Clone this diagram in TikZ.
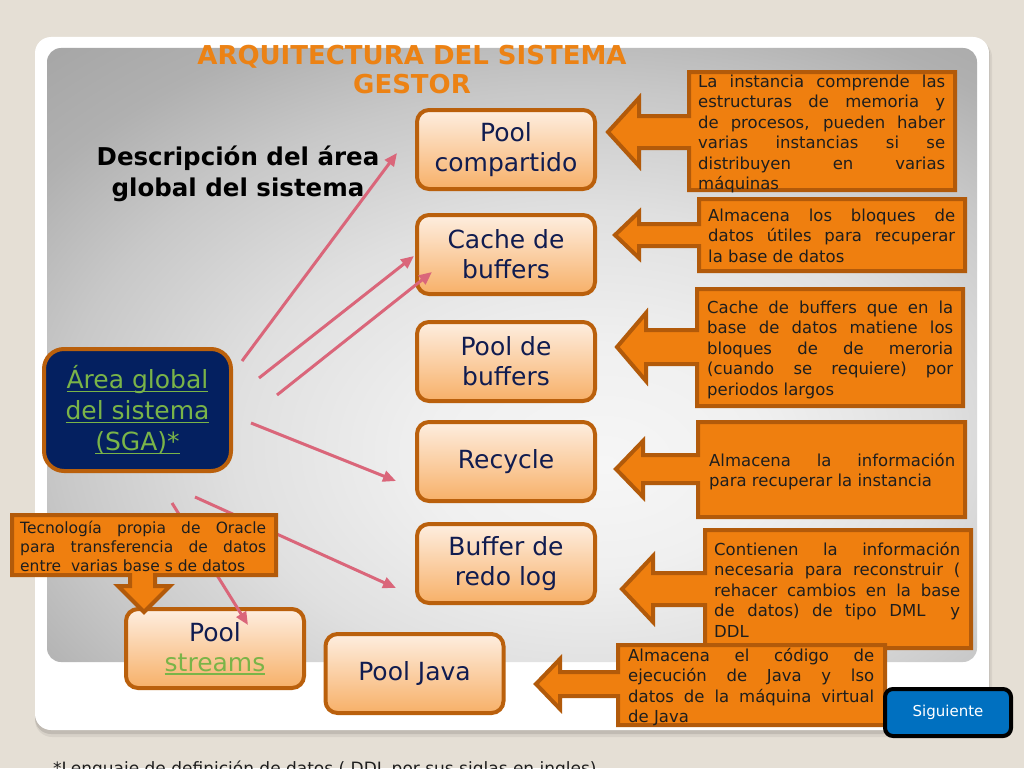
\documentclass[tikz,border=0pt]{standalone}
\usepackage{fontspec}
\setmainfont{DejaVu Sans}
\usetikzlibrary{arrows.meta}
\tolerance=10000 \hbadness=10000 \hyphenpenalty=10000 \exhyphenpenalty=10000
\definecolor{bg}{RGB}{229,223,213}
\definecolor{ttl}{RGB}{236,130,20}
\definecolor{boxbd}{RGB}{186,96,12}
\definecolor{boxtop}{RGB}{254,238,224}
\definecolor{boxbot}{RGB}{247,176,104}
\definecolor{boxtx}{RGB}{16,28,80}
\definecolor{calfill}{RGB}{239,127,15}
\definecolor{calbd}{RGB}{178,90,10}
\definecolor{caltx}{RGB}{30,30,30}
\definecolor{pinkl}{RGB}{218,102,122}
\definecolor{navy}{RGB}{4,32,96}
\definecolor{grn}{RGB}{122,180,72}
\definecolor{sigblue}{RGB}{0,112,192}
\definecolor{pnl0}{RGB}{246,246,246}
\definecolor{pnl1}{RGB}{240,240,240}
\definecolor{pnl2}{RGB}{224,224,224}
\definecolor{pnl3}{RGB}{200,200,200}
\definecolor{pnl4}{RGB}{176,176,176}
\definecolor{pnl5}{RGB}{160,160,160}
\definecolor{pnl6}{RGB}{148,148,148}
\pgfdeclareradialshading{panelsh}{\pgfpoint{5bp}{-9bp}}{color(0bp)=(pnl0); color(9bp)=(pnl1); color(19bp)=(pnl2); color(28bp)=(pnl3); color(35bp)=(pnl4); color(45bp)=(pnl5); color(60bp)=(pnl6); color(100bp)=(pnl6)}
\newcommand\gul[1]{\leavevmode\setbox0\hbox{#1}\rlap{\rule[-3.2pt]{\wd0}{1.6pt}}\box0}
\newcommand\mkcallout[9]{\draw[calshape] (#1,#2) -- (#3,#2) -- (#3,#4) -- (#1,#4) -- (#1,#6+#9) -- (#7,#6+#9) -- (#7,#6+#8) -- (#5,#6) -- (#7,#6-#8) -- (#7,#6-#9) -- (#1,#6-#9) -- cycle;}
\begin{document}
\begin{tikzpicture}[x=1pt,y=-1pt,
  unitbox/.style={draw=boxbd, line width=4pt, rounded corners=12pt, top color=boxtop, bottom color=boxbot,
    minimum width=178pt, minimum height=79pt, text=boxtx, font=\fontsize{25}{30}\selectfont, align=center, inner sep=0pt},
  sgabox/.style={draw=boxbd, line width=4pt, rounded corners=20pt, fill=navy, minimum width=187pt, minimum height=122pt,
    text=grn, font=\fontsize{25}{31}\selectfont, align=center, inner sep=0pt},
  calshape/.style={draw=calbd, fill=calfill, line width=4pt, line join=miter},
  caltext/.style={anchor=north west, inner sep=0pt, text width=247pt, align=justify, font=\fontsize{16.5}{20.5}\selectfont, text=caltx},
  smalltext/.style={anchor=north west, inner sep=0pt, text width=246pt, align=justify, font=\fontsize{15.5}{19}\selectfont, text=caltx},
  pinkarrow/.style={draw=pinkl, line width=3pt, -{Triangle[length=13pt,width=11pt]}},
  sigbtn/.style={draw=black, line width=4pt, fill=sigblue, rounded corners=8pt, minimum width=126pt, minimum height=47pt,
    text=white, font=\fontsize{15}{18}\selectfont, inner sep=0pt}
]
\clip (0,0) rectangle (1024,768);
\useasboundingbox (0,0) rectangle (1024,768);
\fill[bg] (0,0) rectangle (1024,768);
% panel shadow and panel
\fill[black, opacity=0.06, rounded corners=17pt] (35,40) rectangle (992,737);
\fill[black, opacity=0.10, rounded corners=16pt] (35,39) rectangle (990,734);
\fill[white, rounded corners=16pt] (35,37) rectangle (989,730);
\shade[shading=panelsh, rounded corners=14pt] (47,48) rectangle (977,662);
% titles
\node[text=ttl, font=\bfseries\fontsize{26}{29}\selectfont, align=center, inner sep=0pt] (title) at (412,70) {ARQUITECTURA DEL SISTEMA\\GESTOR};
\node[text=black, font=\bfseries\fontsize{24.5}{31}\selectfont, align=center, inner sep=0pt] (desc) at (238,174) {Descripción del área\\global del sistema};
% right column boxes
\node[unitbox] (pc) at (506,149.5) {Pool\\compartido};
\node[unitbox] (cb) at (506,254.5) {Cache de\\buffers};
\node[unitbox] (pb) at (506,361.5) {Pool de\\buffers};
\node[unitbox] (rc) at (506,461.5) {Recycle};
\node[unitbox] (br) at (506,563.5) {Buffer de\\redo log};
% SGA
\node[sgabox] (sga) at (137.5,410) {\gul{Área global}\\\gul{del sistema}\\\gul{(SGA)*}};
% arrow coordinates
\coordinate (a1s) at (242,361); \coordinate (a1e) at (397,153);
\coordinate (a2s) at (259,378); \coordinate (a2e) at (414,256);
\coordinate (a3s) at (277,395); \coordinate (a3e) at (432,272);
\coordinate (a4s) at (251,423); \coordinate (a4e) at (396,481);
\coordinate (a5s) at (195,497); \coordinate (a5e) at (396,588);
\coordinate (a6s) at (172,503); \coordinate (a6e) at (248,625);
\draw[pinkarrow] (a1s) -- (a1e);
\draw[pinkarrow] (a2s) -- (a2e);
\draw[pinkarrow] (a3s) -- (a3e);
\draw[pinkarrow] (a4s) -- (a4e);
\draw[pinkarrow] (a5s) -- (a5e);
% bottom boxes
\node[unitbox] (ps) at (215,648.5) {Pool\\\textcolor{grn}{\gul{streams}}};
\node[unitbox] (pj) at (414.5,673.5) {Pool Java};
\draw[pinkarrow] (a6s) -- (a6e);
% Tecnologia callout (down arrow)
\draw[calshape] (12,515) -- (276,515) -- (276,575) -- (155,575) -- (155,586) -- (170,586) -- (144,612) -- (118,586) -- (130,586) -- (130,575) -- (12,575) -- cycle;
\node[smalltext] (tec) at (20,519.5) {\noindent\strut Tecnología propia de Oracle\linebreak para transferencia de datos\linebreak entre~ varias base s de datos};
% right callouts
\mkcallout{689}{72}{955}{190}{608}{132}{639}{34}{16}
\node[caltext] (c1) at (698,72.6) {\noindent\strut La instancia comprende las\linebreak estructuras de memoria y\linebreak de procesos, pueden haber\linebreak varias instancias si se\linebreak distribuyen en varias\linebreak máquinas};
\mkcallout{699}{199}{965}{271}{615}{235}{639}{23}{11}
\node[caltext] (c2) at (708,206.6) {\noindent\strut Almacena los bloques de\linebreak datos útiles para recuperar\linebreak la base de datos};
\mkcallout{697}{289}{963}{406}{617}{347}{646}{34}{17}
\node[caltext, text width=246pt] (c3) at (707,298.6) {\noindent\strut Cache de buffers que en la\linebreak base de datos matiene los\linebreak bloques de de meroria\linebreak (cuando se requiere) por\linebreak periodos largos};
\mkcallout{698}{422}{965}{517}{616}{469}{643}{28}{14}
\node[caltext, text width=246pt] (c4) at (709,451.6) {\noindent\strut Almacena la información\linebreak para recuperar la instancia};
\mkcallout{705}{530}{971}{648}{622}{589}{653}{33}{16}
\node[caltext, text width=246pt] (c5) at (714,540.6) {\noindent\strut Contienen la información\linebreak necesaria para reconstruir (\linebreak rehacer cambios en la base\linebreak de datos) de tipo DML~ y\linebreak DDL};
\mkcallout{618}{645}{885}{725}{536}{684}{560}{25}{12}
\node[caltext, text width=246pt] (c6) at (628,646.6) {\noindent\strut Almacena el código de\linebreak ejecución de Java y lso\linebreak datos de la máquina virtual\linebreak de Java};
% button
\node[sigbtn] (sig) at (948,712.5) {Siguiente};
% footnote (cut by page edge, as in the reference)
\node[anchor=base west, inner sep=0pt, text=caltx, font=\fontsize{17}{20}\selectfont] (foot) at (53,774) {*Lenguaje de definición de datos ( DDL por sus siglas en ingles)};
\end{tikzpicture}
\end{document}
